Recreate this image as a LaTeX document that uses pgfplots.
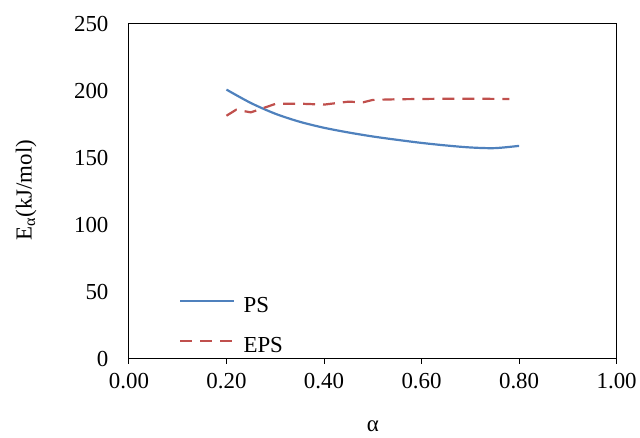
\documentclass[border=0pt]{standalone}
\usepackage{fontspec}
\setmainfont{Liberation Serif}
\usepackage{pgfplots}
\pgfplotsset{compat=1.18}

\definecolor{psblue}{RGB}{79,129,189}
\definecolor{epsred}{RGB}{192,80,77}

\pgfplotstableread{
a     E
0.20  201.0
0.25  191.0
0.30  183.0
0.35  177.0
0.40  172.5
0.45  169.0
0.50  166.0
0.55  163.5
0.60  161.2
0.65  159.3
0.70  157.8
0.75  157.3
0.80  159.0
}\ps

\pgfplotstableread{
a     E
0.20  181.5
0.22  186.0
0.25  184.0
0.30  190.3
0.35  190.5
0.40  189.8
0.45  192.0
0.48  191.5
0.50  193.3
0.55  193.8
0.60  194.0
0.65  194.2
0.70  194.2
0.78  194.0
}\eps

\begin{document}
\begin{tikzpicture}[font=\fontsize{23}{27}\selectfont]
\begin{axis}[
  scale only axis, width=488bp, height=335bp,
  xmin=0, xmax=1, ymin=0, ymax=250,
  xtick={0,0.2,...,1.0}, ytick={0,50,...,250},
  xtick pos=bottom, tick align=outside,
  major tick length=5bp,
  ytick style={draw=none},
  axis line style={line width=1bp},
  every tick/.style={black, line width=1bp},
  /pgf/number format/assume math mode=true,
  x tick label style={yshift=-6bp},
  xticklabel={\pgfmathprintnumber[fixed, fixed zerofill, precision=2]{\tick}},
  yticklabel style={xshift=-12bp},
  xlabel={α},
  ylabel={E\textsubscript{α}(kJ/mol)},
  xlabel style={at={(axis description cs:0.5,-0.2)}, anchor=center},
  ylabel style={at={(axis description cs:-0.211,0.504)}, anchor=center},
  legend cell align=left,
  legend style={draw=none, fill=none, at={(axis description cs:0.103,0.103)}, anchor=west,
    inner sep=0pt, row sep=24bp, nodes={inner sep=0pt, text height=16bp, text depth=0bp}},
  legend image code/.code={\draw[#1] (0bp,3bp) -- (54bp,3bp);},
]
\addplot[psblue, line width=2.2bp, smooth] table[x=a, y=E] {\ps};
\addplot[epsred, line width=2.2bp, dash pattern=on 12bp off 8bp] table[x=a, y=E] {\eps};
\legend{\hspace{8bp}PS, \hspace{8bp}EPS}
\coordinate (O) at (rel axis cs:0,0);
\end{axis}
\path[use as bounding box] (O) ++(-129bp,-79bp) rectangle ++(640bp,438bp);
\end{tikzpicture}
\end{document}
